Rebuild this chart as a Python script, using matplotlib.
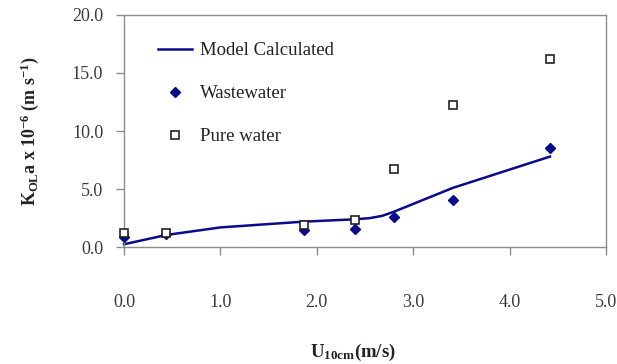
import matplotlib
matplotlib.use("Agg")
import matplotlib.pyplot as plt
from matplotlib.ticker import FormatStrFormatter

plt.rcParams['font.family'] = ['Liberation Serif', 'DejaVu Serif']
plt.rcParams['mathtext.fontset'] = 'custom'
plt.rcParams['mathtext.rm'] = 'Liberation Serif'
plt.rcParams['mathtext.bf'] = 'Liberation Serif:bold'
plt.rcParams['mathtext.it'] = 'Liberation Serif:italic'

# Wind speed at 10 cm (m/s)
wind_speed = [0.0, 0.44, 1.87, 2.40, 2.80, 3.41, 4.42]
# Measured K_OL a (x 1e-6 m/s)
wastewater = [0.9, 1.1, 1.5, 1.6, 2.6, 4.1, 8.5]
pure_water = [1.2, 1.2, 1.9, 2.3, 6.7, 12.2, 16.2]
# Model curve
model_x = [0.0, 0.44, 1.0, 1.87, 2.40, 2.55, 2.68, 2.80, 3.41, 4.42]
model_y = [0.25, 1.05, 1.7, 2.2, 2.4, 2.5, 2.7, 3.05, 5.1, 7.8]

x_ticks = [0.0, 1.0, 2.0, 3.0, 4.0, 5.0]
y_ticks = [0.0, 5.0, 10.0, 15.0, 20.0]

navy = '#0a0a8a'
spine_gray = '#8c8c8c'
text_gray = '#3a3a3a'

fig = plt.figure(figsize=(6.17, 3.64), dpi=100)
ax = fig.add_axes([0.201, 0.321, 0.781, 0.638])

ax.plot(model_x, model_y, color=navy, lw=1.8, label='Model Calculated',
        zorder=2, clip_on=False)
ax.plot(wind_speed, wastewater, linestyle='none', marker='D', ms=5.0,
        color=navy, mec=navy, label='Wastewater', zorder=3, clip_on=False)
ax.plot(wind_speed, pure_water, linestyle='none', marker='s', ms=5.2,
        mfc='white', mec='#222222', mew=1.2, label='Pure water', zorder=4,
        clip_on=False)

ax.set_xlim(0, 5)
ax.set_ylim(0, 20)
ax.set_xticks(x_ticks)
ax.set_yticks(y_ticks)
ax.xaxis.set_major_formatter(FormatStrFormatter('%.1f'))
ax.yaxis.set_major_formatter(FormatStrFormatter('%.1f'))

for s in ax.spines.values():
    s.set_color(spine_gray)
    s.set_linewidth(1.0)

ax.tick_params(axis='x', direction='out', length=6, width=1.0, color=spine_gray,
               pad=28, labelsize=13, labelcolor=text_gray)
ax.tick_params(axis='y', direction='out', length=6, width=1.0, color=spine_gray,
               pad=9, labelsize=13, labelcolor=text_gray)

ax.set_ylabel(r'$\mathbf{K_{OL}a\ x\ 10^{-6}\ (m\ s^{-1})}$', fontsize=13,
              color='#222222', labelpad=22)
fig.text(0.572, 0.033, r'$\mathbf{U_{10cm}}$' + r'$\mathbf{(m/s)}$',
         ha='center', va='center', fontsize=13.5, color='#222222')

leg = ax.legend(loc='upper left', bbox_to_anchor=(0.0705, 0.882), frameon=False,
                fontsize=13.5, labelspacing=1.38, handlelength=1.8,
                handletextpad=0.45, borderaxespad=0, borderpad=0)
for t in leg.get_texts():
    t.set_color('#222222')

fig.savefig('out.png', dpi=100)
